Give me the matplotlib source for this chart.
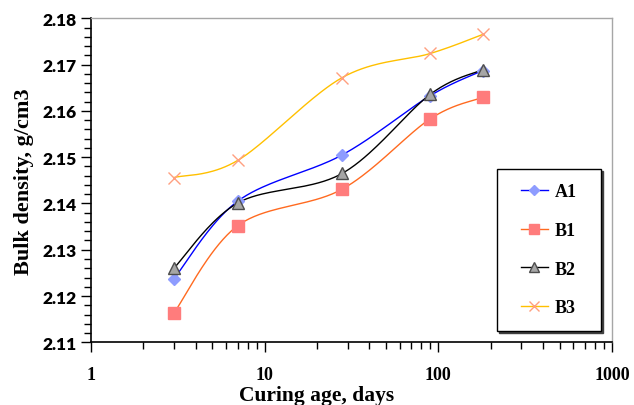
import numpy as np
import matplotlib
matplotlib.use("Agg")
import matplotlib.pyplot as plt
from matplotlib.patches import Rectangle
from matplotlib.ticker import FixedLocator, MultipleLocator, FuncFormatter, LogLocator, NullFormatter
from matplotlib.transforms import offset_copy

# Edad de curado (días) y densidad aparente (g/cm3) de cada mezcla
dias = [3, 7, 28, 90, 180]
a1 = [2.1237, 2.1405, 2.1505, 2.1633, 2.1687]
b1 = [2.1163, 2.1352, 2.1431, 2.1583, 2.1629]
b2 = [2.1260, 2.1401, 2.1465, 2.1636, 2.1689]
b3 = [2.1456, 2.1493, 2.1672, 2.1724, 2.1765]
nombres = ["A1", "B1", "B2", "B3"]


def curva_suave(x, y, n=40):
    # Curva tipo Catmull-Rom en espacio log(x) para unir los puntos
    lx = np.log10(np.asarray(x, dtype=float))
    y = np.asarray(y, dtype=float)
    # normalizar para que la suavidad no dependa de las escalas
    sx = lx.max() - lx.min()
    sy = y.max() - y.min()
    px = np.column_stack([(lx - lx.min()) / sx, (y - y.min()) / sy])
    pts = np.vstack([px[0], px, px[-1]])
    out = []
    for i in range(1, len(pts) - 2):
        p0, p1, p2, p3 = pts[i - 1], pts[i], pts[i + 1], pts[i + 2]
        c1 = p1 + (p2 - p0) / 6.0
        c2 = p2 - (p3 - p1) / 6.0
        t = np.linspace(0, 1, n)[:, None]
        seg = ((1 - t) ** 3) * p1 + 3 * ((1 - t) ** 2) * t * c1 + 3 * (1 - t) * t ** 2 * c2 + t ** 3 * p2
        out.append(seg if i == 1 else seg[1:])
    out = np.vstack(out)
    xs = 10 ** (out[:, 0] * sx + lx.min())
    ys = out[:, 1] * sy + y.min()
    return xs, ys


fig = plt.figure(figsize=(6.34, 4.06), dpi=100)
ax = fig.add_axes([0.1435, 0.1544, 0.8218, 0.7981])

series = [a1, b1, b2, b3]
lineas = ["#0000FF", "#FF6A20", "#000000", "#FFC000"]
marcas = ["D", "s", "^", "x"]
relleno = ["#8E9CFF", "#FF7C7C", "#A6A6A6", "#FF9F80"]
borde = ["#8E9CFF", "#FF7C7C", "#4D4D4D", "#FF9F80"]
tam = [6, 8, 9, 8]

handles = []
for ys, lc, mk, fc, ec, ms, nom in zip(series, lineas, marcas, relleno, borde, tam, nombres):
    cx, cy = curva_suave(dias, ys)
    ax.plot(cx, cy, color=lc, lw=1.0, zorder=2)
    ax.plot(dias, ys, ls="none", marker=mk, ms=ms, mfc=fc, mec=ec, mew=1.0, zorder=3)
    h, = ax.plot([], [], color=lc, lw=1.0, marker=mk, ms=ms * 0.85, mfc=fc, mec=ec)
    handles.append(h)

ax.set_xscale("log")
ax.set_xlim(1, 1000)
ax.set_ylim(2.11, 2.18)
ax.yaxis.set_major_locator(MultipleLocator(0.01))
ax.yaxis.set_minor_locator(MultipleLocator(0.002))
ax.yaxis.set_major_formatter(FuncFormatter(lambda v, p: f"{v:.2f}"))
ax.xaxis.set_major_locator(FixedLocator([1, 10, 100, 1000]))
ax.xaxis.set_minor_locator(LogLocator(base=10, subs=np.arange(2, 10)))
ax.xaxis.set_major_formatter(FuncFormatter(lambda v, p: f"{v:g}"))
ax.xaxis.set_minor_formatter(NullFormatter())

ax.tick_params(which="major", direction="out", length=7, width=1, right=False, top=False)
ax.tick_params(which="minor", direction="out", length=5, width=1, right=False, top=False)
ax.tick_params(axis="x", which="major", pad=10)

for lab in ax.get_yticklabels():
    lab.set_fontfamily("Lato")
    lab.set_fontweight("heavy")
    lab.set_fontsize(12.5)
for lab in ax.get_xticklabels():
    lab.set_fontfamily("Liberation Serif")
    lab.set_fontweight("bold")
    lab.set_fontsize(13)

for lado in ["top", "right"]:
    ax.spines[lado].set_color("#A6A6A6")
    ax.spines[lado].set_linewidth(1.0)
for lado in ["left", "bottom"]:
    ax.spines[lado].set_color("black")
    ax.spines[lado].set_linewidth(1.2)

ax.set_xlabel("Curing age, days", fontfamily="Liberation Serif", fontweight="bold", fontsize=15.5)
ax.xaxis.set_label_coords(0.433, -0.132)
ax.set_ylabel("Bulk density, g/cm3", fontfamily="Liberation Serif", fontweight="bold", fontsize=16, labelpad=6)

# marco de la leyenda con sombra fina
x0, y0, w, hgt = 0.779, 0.035, 0.200, 0.500
sombra = Rectangle((x0, y0), w, hgt, transform=offset_copy(ax.transAxes, fig=fig, x=2, y=-2, units="dots"),
                   facecolor="#404040", edgecolor="#404040", lw=1.0, zorder=4)
marco = Rectangle((x0, y0), w, hgt, transform=ax.transAxes,
                  facecolor="white", edgecolor="black", lw=1.0, zorder=5)
ax.add_patch(sombra)
ax.add_patch(marco)

leg = ax.legend(handles, nombres, loc="center", bbox_to_anchor=(x0 + w / 2, y0 + hgt / 2),
                frameon=False, borderaxespad=0,
                prop={"family": "Liberation Serif", "weight": "bold", "size": 13},
                handlelength=1.5, handletextpad=0.4, labelspacing=1.2, borderpad=0.5)
leg.set_zorder(6)

fig.savefig("out.png", dpi=100)
